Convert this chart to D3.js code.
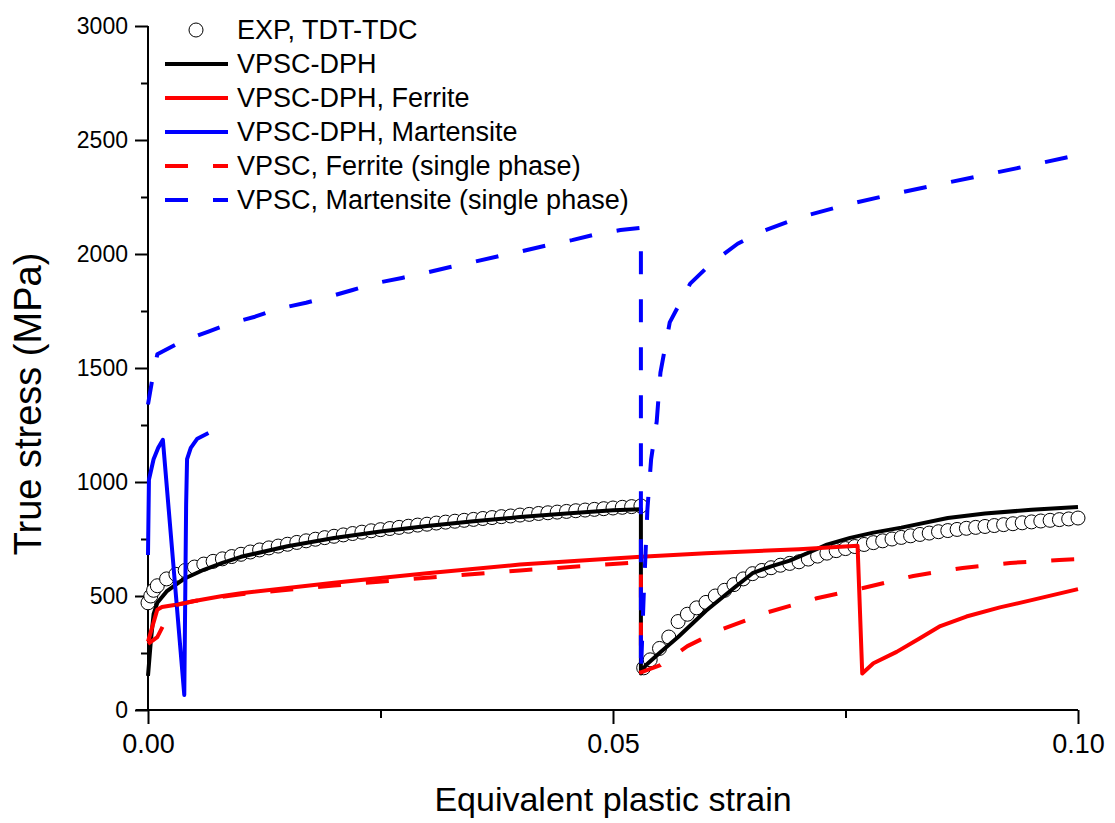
<!DOCTYPE html>
<html>
<head>
<meta charset="utf-8">
<script src="https://cdn.jsdelivr.net/npm/d3@7"></script>
<style>
  body { margin: 0; background: #fff; }
  svg text { font-family: "Liberation Sans", Arial, sans-serif; fill: #000; }
</style>
</head>
<body>
<div id="chart"></div>
<script>
// Experimental points (strain, MPa), two loading segments
const expSeg1 = [
  [0, 470], [0.0003, 500], [0.0006, 525], [0.001, 545], [0.002, 575], [0.003, 595], [0.004, 612],
  [0.005, 627], [0.006, 640], [0.007, 652], [0.008, 663], [0.009, 673], [0.010, 683], [0.011, 693],
  [0.012, 702], [0.013, 711], [0.014, 719], [0.015, 727], [0.016, 735], [0.017, 742], [0.018, 749],
  [0.019, 756], [0.020, 762], [0.021, 768], [0.022, 774], [0.023, 780], [0.024, 786], [0.025, 791],
  [0.026, 796], [0.027, 801], [0.028, 806], [0.029, 811], [0.030, 815], [0.031, 820], [0.032, 824],
  [0.033, 828], [0.034, 832], [0.035, 836], [0.036, 840], [0.037, 844], [0.038, 848], [0.039, 851],
  [0.040, 855], [0.041, 858], [0.042, 862], [0.043, 865], [0.044, 868], [0.045, 871], [0.046, 874],
  [0.047, 877], [0.048, 880], [0.049, 883], [0.050, 886], [0.051, 889], [0.052, 892], [0.053, 895]
];
const expSeg2 = [
  [0.0533, 185], [0.054, 220], [0.055, 270], [0.056, 320], [0.057, 388], [0.058, 420], [0.059, 448],
  [0.060, 472], [0.061, 500], [0.062, 525], [0.063, 550], [0.064, 575], [0.065, 598], [0.066, 612],
  [0.067, 624], [0.068, 635], [0.069, 643], [0.070, 650], [0.071, 662], [0.072, 675], [0.073, 688],
  [0.074, 699], [0.075, 708], [0.076, 717], [0.077, 726], [0.078, 734], [0.079, 742], [0.080, 750],
  [0.081, 757], [0.082, 764], [0.083, 770], [0.084, 776], [0.085, 782], [0.086, 787], [0.087, 792],
  [0.088, 797], [0.089, 801], [0.090, 805], [0.091, 809], [0.092, 813], [0.093, 817], [0.094, 821],
  [0.095, 825], [0.096, 829], [0.097, 832], [0.098, 835], [0.099, 838], [0.100, 842]
];

// VPSC-DPH composite
const vpscDph = [
  [0, 150], [0.0003, 300], [0.0006, 420], [0.001, 470], [0.002, 520], [0.003, 550], [0.004, 578],
  [0.006, 615], [0.008, 645], [0.010, 672], [0.015, 718], [0.020, 754], [0.025, 783], [0.030, 807],
  [0.035, 828], [0.040, 846], [0.045, 862], [0.050, 876], [0.053, 880],
  [0.053, 160], [0.0535, 195], [0.055, 250], [0.057, 320], [0.060, 435], [0.063, 535], [0.065, 600],
  [0.067, 630], [0.069, 655], [0.0712, 693], [0.073, 725], [0.0755, 755], [0.078, 778], [0.081, 800],
  [0.086, 842], [0.090, 862], [0.095, 878], [0.100, 890]
];

// VPSC-DPH, ferrite phase
const dphFerrite = [
  [0, 300], [0.0005, 370], [0.001, 440], [0.0015, 452], [0.003, 462], [0.005, 478], [0.008, 500],
  [0.010, 512], [0.020, 558], [0.030, 600], [0.040, 638], [0.050, 665], [0.053, 672], [0.060, 688],
  [0.070, 705], [0.0763, 720],
  [0.0768, 160], [0.078, 205], [0.0805, 255], [0.083, 315], [0.0852, 368], [0.088, 410],
  [0.0916, 450], [0.095, 482], [0.100, 530]
];

// VPSC-DPH, martensite phase
const dphMartensite = [
  [0, 680], [0.0001, 1010], [0.0006, 1100], [0.0011, 1150], [0.0016, 1185], [0.0039, 66],
  [0.0041, 900], [0.0042, 1100], [0.0046, 1150], [0.0053, 1190], [0.0065, 1215]
];

// VPSC single phase ferrite
const spFerrite = [
  [0, 290], [0.001, 320], [0.002, 400], [0.003, 460], [0.005, 478], [0.010, 508], [0.020, 546],
  [0.030, 580], [0.040, 612], [0.050, 640], [0.053, 648],
  [0.053, 165], [0.054, 180], [0.0551, 197], [0.058, 280], [0.0615, 351], [0.0666, 428],
  [0.0719, 490], [0.0769, 535], [0.0823, 588], [0.0876, 623], [0.0927, 645], [0.098, 658], [0.100, 662]
];

// VPSC single phase martensite
const spMartensite = [
  [0, 1340], [0.0005, 1460], [0.001, 1560], [0.0035, 1614], [0.0065, 1660], [0.009, 1697],
  [0.0115, 1725], [0.014, 1760], [0.017, 1786], [0.0193, 1811], [0.022, 1842], [0.0246, 1873],
  [0.0273, 1895], [0.0298, 1917], [0.0325, 1943], [0.035, 1965], [0.0378, 1991], [0.0403, 2013],
  [0.043, 2039], [0.0456, 2061], [0.0483, 2088], [0.0508, 2105], [0.053, 2115],
  [0.053, 160], [0.0533, 500], [0.0537, 880], [0.0541, 1100], [0.0547, 1265], [0.0551, 1480],
  [0.0561, 1700], [0.0583, 1870], [0.0606, 1960], [0.0634, 2045], [0.0658, 2095], [0.070, 2160],
  [0.075, 2215], [0.080, 2262], [0.085, 2305], [0.090, 2347], [0.095, 2390], [0.100, 2434]
];

const xTicks = [0, 0.05, 0.10];
const xMinorTicks = [0.025, 0.075];
const yTicks = [0, 500, 1000, 1500, 2000, 2500, 3000];
const yMinorTicks = [250, 750, 1250, 1750, 2250, 2750];

const legendLabels = [
  "EXP, TDT-TDC",
  "VPSC-DPH",
  "VPSC-DPH, Ferrite",
  "VPSC-DPH, Martensite",
  "VPSC, Ferrite (single phase)",
  "VPSC, Martensite (single phase)"
];

const W = 1115, H = 823;
const svg = d3.select("#chart").append("svg")
  .attr("width", W)
  .attr("height", H);

const x = d3.scaleLinear().domain([0, 0.10]).range([148, 1078]);
const y = d3.scaleLinear().domain([0, 3000]).range([710, 26]);

// axes
const xAxis = svg.append("g").attr("transform", "translate(0,710)")
  .call(d3.axisBottom(x).tickValues(xTicks).tickFormat(d3.format(".2f")).tickSize(14).tickPadding(10));
const xMinor = svg.append("g").attr("transform", "translate(0,710)")
  .call(d3.axisBottom(x).tickValues(xMinorTicks).tickFormat("").tickSize(8));
const yAxis = svg.append("g").attr("transform", "translate(148,0)")
  .call(d3.axisLeft(y).tickValues(yTicks).tickFormat(d3.format("d")).tickSize(13).tickPadding(7));
const yMinor = svg.append("g").attr("transform", "translate(148,0)")
  .call(d3.axisLeft(y).tickValues(yMinorTicks).tickFormat("").tickSize(7));

[xAxis, xMinor, yAxis, yMinor].forEach(g => {
  g.select(".domain").attr("stroke", "#000").attr("stroke-width", 2);
  g.selectAll(".tick line").attr("stroke", "#000").attr("stroke-width", 2);
});
xAxis.select(".domain").attr("d", "M136,0H1078");
xMinor.select(".domain").remove();
yMinor.select(".domain").remove();
yAxis.select(".domain").attr("d", "M0,26V710");

xAxis.selectAll(".tick text").attr("font-size", 27).attr("fill", "#000");
yAxis.selectAll(".tick text").attr("font-size", 23).attr("fill", "#000");

// axis titles
svg.append("text")
  .attr("x", 613).attr("y", 811)
  .attr("text-anchor", "middle")
  .attr("font-size", 34)
  .text("Equivalent plastic strain");

svg.append("text")
  .attr("transform", "translate(41,404) rotate(-90)")
  .attr("text-anchor", "middle")
  .attr("font-size", 38)
  .text("True stress (MPa)");

// experimental circles
const plot = svg.append("g");
plot.selectAll(".exp")
  .data(expSeg1.concat(expSeg2))
  .enter()
  .append("circle")
  .attr("class", "exp")
  .attr("cx", d => x(d[0]))
  .attr("cy", d => y(d[1]))
  .attr("r", 7)
  .attr("fill", "#fff")
  .attr("stroke", "#000")
  .attr("stroke-width", 1);

const line = d3.line()
  .x(d => x(d[0]))
  .y(d => y(d[1]));

const series = [
  { data: vpscDph, color: "#000", dash: null },
  { data: dphFerrite, color: "#ff0000", dash: null },
  { data: dphMartensite, color: "#0000ff", dash: null },
  { data: spFerrite, color: "#ff0000", dash: "23,25" },
  { data: spMartensite, color: "#0000ff", dash: "23,25" }
];

plot.selectAll(".line")
  .data(series)
  .enter()
  .append("path")
  .attr("class", "line")
  .attr("d", d => line(d.data))
  .attr("fill", "none")
  .attr("stroke", d => d.color)
  .attr("stroke-width", 4)
  .attr("stroke-linejoin", "round")
  .attr("stroke-dasharray", d => d.dash);

// legend
const legend = svg.append("g");
const rowY = i => 30 + i * 34;

legend.append("circle")
  .attr("cx", 196).attr("cy", rowY(0))
  .attr("r", 7)
  .attr("fill", "#fff")
  .attr("stroke", "#000")
  .attr("stroke-width", 1);

legend.selectAll(".lg-line")
  .data(series)
  .enter()
  .append("line")
  .attr("class", "lg-line")
  .attr("x1", 165).attr("x2", 228)
  .attr("y1", (d, i) => rowY(i + 1))
  .attr("y2", (d, i) => rowY(i + 1))
  .attr("stroke", d => d.color)
  .attr("stroke-width", 4)
  .attr("stroke-dasharray", d => d.dash);

legend.selectAll(".lg-text")
  .data(legendLabels)
  .enter()
  .append("text")
  .attr("class", "lg-text")
  .attr("x", 237)
  .attr("y", (d, i) => rowY(i))
  .attr("dy", "0.35em")
  .attr("font-size", 27)
  .text(d => d);
</script>
</body>
</html>
